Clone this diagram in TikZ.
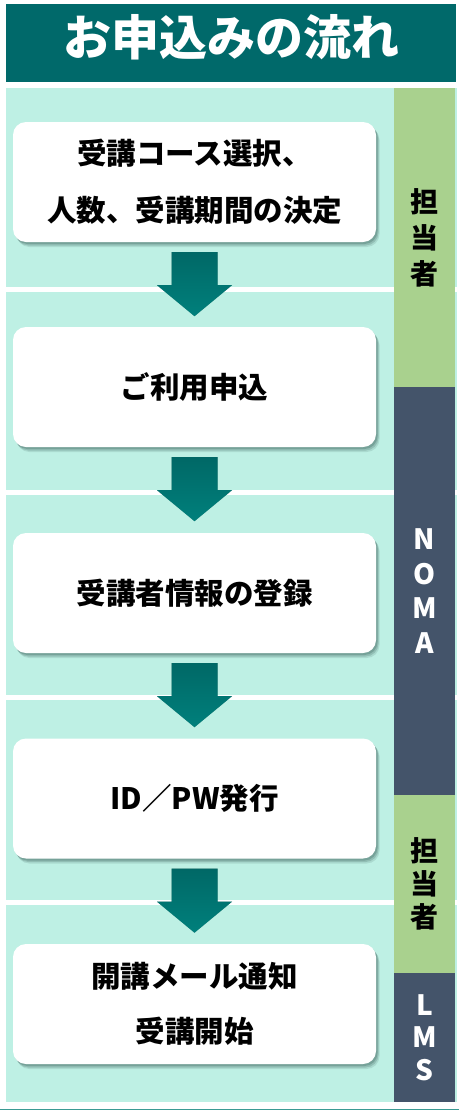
\documentclass[tikz,border=0pt]{standalone}
\usepackage{fontspec}
\setmainfont{Noto Sans CJK JP}
\usetikzlibrary{calc,shadows}
\definecolor{hdr}{HTML}{00696A}
\definecolor{mint}{HTML}{BEF0E4}
\definecolor{grn}{HTML}{A9D18E}
\definecolor{slate}{HTML}{44546A}
\definecolor{arrtop}{HTML}{006866}
\definecolor{arrbot}{HTML}{00807C}
\definecolor{bline}{HTML}{3A9A93}
\definecolor{shd}{HTML}{1E3F3C}
\newcommand\blockarrow[1]{%
  \coordinate (t#1) at ($(#1.south)+(0,10)$);
  \foreach \s/\o in {2/.18,3/.14,4/.10}{%
    \fill[shd,opacity=\o,xshift=\s pt*0.6,yshift=-\s pt]
      ($(t#1)+(-23,0)$) -- ($(t#1)+(23,0)$) -- ($(t#1)+(23,33)$) -- ($(t#1)+(37.5,33)$)
      -- ($(t#1)+(0,64)$) -- ($(t#1)+(-37.5,33)$) -- ($(t#1)+(-23,33)$) -- cycle;}
  \shade[top color=arrtop,bottom color=arrbot]
      ($(t#1)+(-23,0)$) -- ($(t#1)+(23,0)$) -- ($(t#1)+(23,33)$) -- ($(t#1)+(37.5,33)$)
      -- ($(t#1)+(0,64)$) -- ($(t#1)+(-37.5,33)$) -- ($(t#1)+(-23,33)$) -- cycle;
}
\begin{document}
\begin{tikzpicture}[x=1pt,y=-1pt,
  stepbox/.style={fill=white, rounded corners=13pt, minimum width=363pt, minimum height=120pt,
    inner sep=0pt, align=center, font=\fontsize{29.5}{57}\selectfont\bfseries,
    general shadow={shadow xshift=1.5pt, shadow yshift=-2pt, fill=shd, opacity=.22},
    general shadow={shadow xshift=2.5pt, shadow yshift=-3.5pt, fill=shd, opacity=.18},
    general shadow={shadow xshift=3.5pt, shadow yshift=-5pt, fill=shd, opacity=.12}},
  side/.style={minimum width=61pt, inner sep=0pt, align=center, font=\fontsize{28}{36}\selectfont\bfseries},
  band/.style={fill=mint}]
\useasboundingbox (0,0) rectangle (459,1111);
\fill[white] (0,0) rectangle (459,1111);
% header
\node[fill=hdr, minimum width=450pt, minimum height=78pt, inner sep=0pt] (hdr) at (231,43) {};
\node[text=white, font=\fontsize{48}{52}\selectfont\bfseries, inner sep=0pt] (title) at (231,37) {お申込みの流れ};
% mint bands
\fill[band] (6,88) rectangle (457,287);
\fill[band] (6,292) rectangle (457,490);
\fill[band] (6,495) rectangle (457,695);
\fill[band] (6,700) rectangle (457,900);
\fill[band] (6,905) rectangle (457,1102);
% side column
\node[side, fill=grn, minimum height=299pt] (s1) at (424.5,237.5) {担\\当\\者};
\node[side, fill=slate, text=white, minimum height=408pt, font=\fontsize{28}{34.5}\selectfont\bfseries] (s2) at (424.5,591) {N\\O\\M\\A};
\node[side, fill=grn, minimum height=178pt, font=\fontsize{28}{33}\selectfont\bfseries] (s3) at (424.5,884) {担\\当\\者};
\node[side, fill=slate, text=white, minimum height=129pt, font=\fontsize{28}{32.5}\selectfont\bfseries] (s4) at (424.5,1037.5) {L\\M\\S};
% boxes
\node[stepbox] (b1) at (194.5,182) {受講コース選択、\\人数、受講期間の決定};
\node[stepbox] (b2) at (194.5,387) {ご利用申込};
\node[stepbox] (b3) at (194.5,593) {受講者情報の登録};
\node[stepbox] (b4) at (194.5,798.5) {ID／PW発行};
\node[stepbox, font=\fontsize{29.5}{55}\selectfont\bfseries] (b5) at (194.5,1004) {開講メール通知\\受講開始};
% arrows
\blockarrow{b1}
\blockarrow{b2}
\blockarrow{b3}
\blockarrow{b4}
% bottom line
\draw[bline, line width=1.5pt] (0,1109.3) -- (459,1109.3);
\end{tikzpicture}
\end{document}
